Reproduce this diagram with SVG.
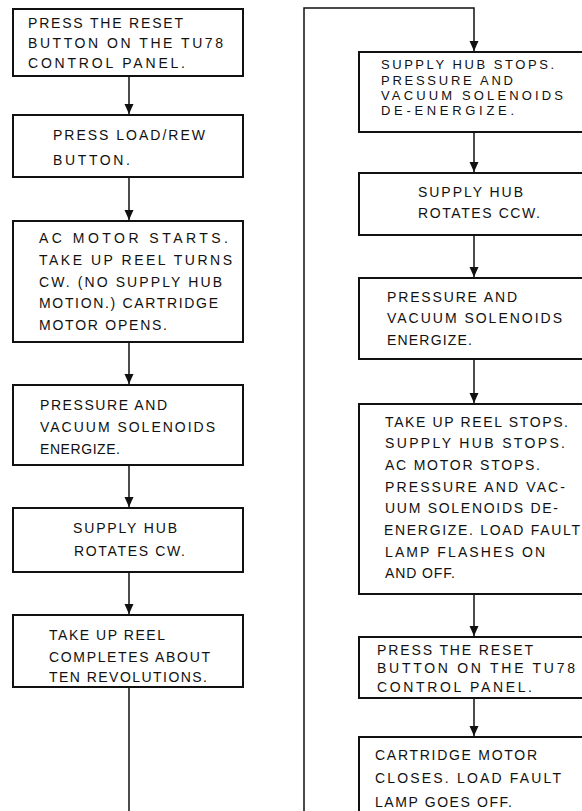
<svg xmlns="http://www.w3.org/2000/svg" width="582" height="811" viewBox="0 0 582 811">
<style>
.box{fill:#fff;stroke:#111;stroke-width:2}
.t{font-family:"Liberation Sans",Arial,sans-serif;font-size:14px;fill:#111}
.s{font-size:13px}
.c{fill:none;stroke:#111;stroke-width:1.5}
</style>
<defs>
<marker id="ah" viewBox="0 0 10 12" refX="10" refY="6" markerWidth="10" markerHeight="12" markerUnits="userSpaceOnUse" orient="auto">
<path d="M0,1.5 L10,6 L0,10.5 Z" fill="#111"/>
</marker>
</defs>
<rect width="582" height="811" fill="#fff"/>
<g id="connectors">
<line class="c" x1="129" y1="76" x2="129" y2="114" marker-end="url(#ah)"/>
<line class="c" x1="129" y1="177" x2="129" y2="220" marker-end="url(#ah)"/>
<line class="c" x1="129" y1="342" x2="129" y2="384" marker-end="url(#ah)"/>
<line class="c" x1="129" y1="465" x2="129" y2="507" marker-end="url(#ah)"/>
<line class="c" x1="129" y1="572" x2="129" y2="614" marker-end="url(#ah)"/>
<line class="c" x1="129" y1="687" x2="129" y2="812"/>
<path class="c" d="M304,812 L304,8 L474,8 L474,51" marker-end="url(#ah)"/>
<line class="c" x1="474" y1="132" x2="474" y2="172" marker-end="url(#ah)"/>
<line class="c" x1="474" y1="235" x2="474" y2="277" marker-end="url(#ah)"/>
<line class="c" x1="474" y1="359" x2="474" y2="403" marker-end="url(#ah)"/>
<line class="c" x1="474" y1="594" x2="474" y2="636" marker-end="url(#ah)"/>
<line class="c" x1="474" y1="698" x2="474" y2="736" marker-end="url(#ah)"/>
</g>
<g id="n1">
<rect class="box" x="13" y="9" width="230" height="67"/>
<text class="t" x="28" y="28" textLength="155" lengthAdjust="spacing">PRESS THE RESET</text>
<text class="t" x="28" y="48" textLength="195" lengthAdjust="spacing">BUTTON ON THE TU78</text>
<text class="t" x="28" y="68" textLength="157" lengthAdjust="spacing">CONTROL PANEL.</text>
</g>
<g id="n2">
<rect class="box" x="13" y="115" width="230" height="62"/>
<text class="t" x="53" y="140" textLength="152" lengthAdjust="spacing">PRESS LOAD/REW</text>
<text class="t" x="53" y="165" textLength="77" lengthAdjust="spacing">BUTTON.</text>
</g>
<g id="n3">
<rect class="box" x="13" y="221" width="230" height="121"/>
<text class="t" x="39" y="243" textLength="189" lengthAdjust="spacing">AC MOTOR STARTS.</text>
<text class="t" x="39" y="265" textLength="193" lengthAdjust="spacing">TAKE UP REEL TURNS</text>
<text class="t" x="39" y="287" textLength="183" lengthAdjust="spacing">CW. (NO SUPPLY HUB</text>
<text class="t" x="39" y="308" textLength="179" lengthAdjust="spacing">MOTION.) CARTRIDGE</text>
<text class="t" x="39" y="330" textLength="128" lengthAdjust="spacing">MOTOR OPENS.</text>
</g>
<g id="n4">
<rect class="box" x="13" y="385" width="230" height="80"/>
<text class="t" x="40" y="410" textLength="127" lengthAdjust="spacing">PRESSURE AND</text>
<text class="t" x="40" y="432" textLength="175" lengthAdjust="spacing">VACUUM SOLENOIDS</text>
<text class="t" x="40" y="454" textLength="80" lengthAdjust="spacing">ENERGIZE.</text>
</g>
<g id="n5">
<rect class="box" x="13" y="508" width="230" height="64"/>
<text class="t" x="73" y="533" textLength="104" lengthAdjust="spacing">SUPPLY HUB</text>
<text class="t" x="74" y="556" textLength="111" lengthAdjust="spacing">ROTATES CW.</text>
</g>
<g id="n6">
<rect class="box" x="13" y="615" width="230" height="72"/>
<text class="t" x="49" y="640" textLength="116" lengthAdjust="spacing">TAKE UP REEL</text>
<text class="t" x="49" y="662" textLength="161" lengthAdjust="spacing">COMPLETES ABOUT</text>
<text class="t" x="49" y="682" textLength="158" lengthAdjust="spacing">TEN REVOLUTIONS.</text>
</g>
<g id="n7">
<rect class="box" x="359" y="52" width="250" height="80"/>
<text class="t s" x="381" y="69" textLength="173" lengthAdjust="spacing">SUPPLY HUB STOPS.</text>
<text class="t s" x="381" y="85" textLength="132" lengthAdjust="spacing">PRESSURE AND</text>
<text class="t s" x="381" y="100" textLength="182" lengthAdjust="spacing">VACUUM SOLENOIDS</text>
<text class="t s" x="381" y="115" textLength="133" lengthAdjust="spacing">DE-ENERGIZE.</text>
</g>
<g id="n8">
<rect class="box" x="359" y="173" width="250" height="62"/>
<text class="t" x="418" y="197" textLength="105" lengthAdjust="spacing">SUPPLY HUB</text>
<text class="t" x="418" y="218" textLength="122" lengthAdjust="spacing">ROTATES CCW.</text>
</g>
<g id="n9">
<rect class="box" x="359" y="278" width="250" height="81"/>
<text class="t" x="387" y="302" textLength="130" lengthAdjust="spacing">PRESSURE AND</text>
<text class="t" x="387" y="323" textLength="175" lengthAdjust="spacing">VACUUM SOLENOIDS</text>
<text class="t" x="387" y="345" textLength="85" lengthAdjust="spacing">ENERGIZE.</text>
</g>
<g id="n10">
<rect class="box" x="359" y="404" width="250" height="190"/>
<text class="t" x="385" y="427" textLength="183" lengthAdjust="spacing">TAKE UP REEL STOPS.</text>
<text class="t" x="385" y="448" textLength="180" lengthAdjust="spacing">SUPPLY HUB STOPS.</text>
<text class="t" x="385" y="470" textLength="155" lengthAdjust="spacing">AC MOTOR STOPS.</text>
<text class="t" x="385" y="492" textLength="180" lengthAdjust="spacing">PRESSURE AND VAC-</text>
<text class="t" x="385" y="513" textLength="173" lengthAdjust="spacing">UUM SOLENOIDS DE-</text>
<text class="t" x="384" y="535" textLength="196" lengthAdjust="spacing">ENERGIZE. LOAD FAULT</text>
<text class="t" x="385" y="557" textLength="160" lengthAdjust="spacing">LAMP FLASHES ON</text>
<text class="t" x="385" y="578" textLength="70" lengthAdjust="spacing">AND OFF.</text>
</g>
<g id="n11">
<rect class="box" x="359" y="637" width="250" height="61"/>
<text class="t" x="377" y="655" textLength="156" lengthAdjust="spacing">PRESS THE RESET</text>
<text class="t" x="377" y="673" textLength="198" lengthAdjust="spacing">BUTTON ON THE TU78</text>
<text class="t" x="377" y="692" textLength="155" lengthAdjust="spacing">CONTROL PANEL.</text>
</g>
<g id="n12">
<rect class="box" x="359" y="737" width="250" height="100"/>
<text class="t" x="375" y="760" textLength="162" lengthAdjust="spacing">CARTRIDGE MOTOR</text>
<text class="t" x="375" y="783" textLength="186" lengthAdjust="spacing">CLOSES. LOAD FAULT</text>
<text class="t" x="375" y="807" textLength="137" lengthAdjust="spacing">LAMP GOES OFF.</text>
</g>
</svg>
